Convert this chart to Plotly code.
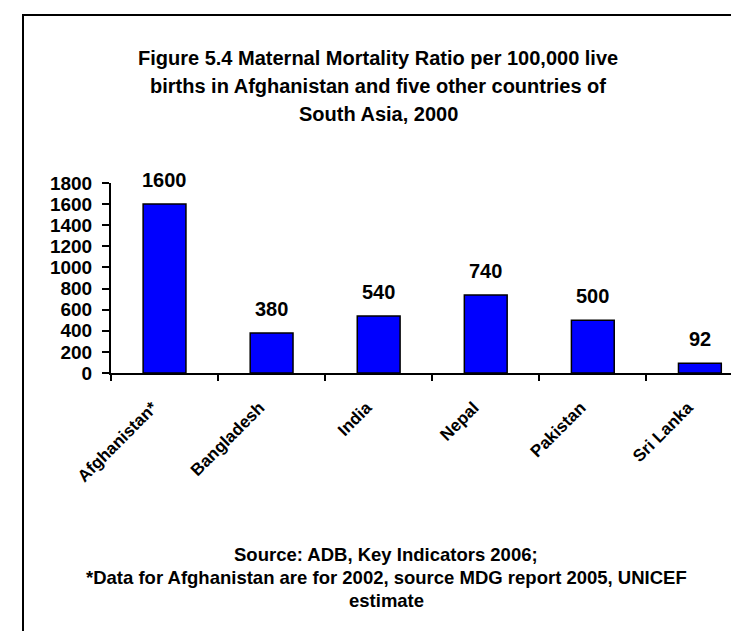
import plotly.graph_objects as go

countries = ["Afghanistan*", "Bangladesh", "India", "Nepal", "Pakistan", "Sri Lanka"]
mmr = [1600, 380, 540, 740, 500, 92]
y_ticks = [0, 200, 400, 600, 800, 1000, 1200, 1400, 1600, 1800]

title_lines = [
    "Figure 5.4 Maternal Mortality Ratio per 100,000 live",
    "births in Afghanistan and five other countries of",
    "South Asia, 2000",
]
footer_lines = [
    "Source: ADB, Key Indicators 2006;",
    "*Data for Afghanistan are for 2002, source MDG report 2005, UNICEF",
    "estimate",
]

W, H = 739, 631
L, R = 103, 739   # plot area x pixels
T, B = 175, 365   # plot area y pixels


def px_x(px):
    return (px - L) / (R - L)


def px_y(py):
    return (B - py) / (B - T)


fig = go.Figure()
fig.add_trace(go.Bar(
    x=countries, y=mmr, width=0.4,
    marker=dict(color="#0000FF", line=dict(color="black", width=1.5)),
    showlegend=False, hoverinfo="x+y",
))

annotations = []
for c, v in zip(countries, mmr):
    annotations.append(dict(
        x=c, y=v, xref="x", yref="y", text=str(v), showarrow=False,
        yanchor="bottom", yshift=11,
        font=dict(family="Liberation Sans, Arial", size=20, color="black", weight="bold"),
    ))

title_y = [50, 78, 106]
for line, yy in zip(title_lines, title_y):
    annotations.append(dict(
        x=px_x(370), y=px_y(yy), xref="paper", yref="paper",
        text=line, showarrow=False,
        xanchor="center", yanchor="middle",
        font=dict(family="Liberation Sans, Arial", size=20, color="black", weight="bold"),
    ))

footer_y = [546, 569, 592]
for line, yy in zip(footer_lines, footer_y):
    annotations.append(dict(
        x=px_x(378), y=px_y(yy), xref="paper", yref="paper",
        text=line, showarrow=False,
        xanchor="center", yanchor="middle",
        font=dict(family="Liberation Sans, Arial", size=18.5, color="black", weight="bold"),
    ))

fig.update_layout(
    width=W, height=H,
    margin=dict(l=L, r=W - R, t=T, b=H - B, pad=0),
    paper_bgcolor="white", plot_bgcolor="white",
    annotations=annotations,
    shapes=[dict(
        type="path", xref="paper", yref="paper",
        path=f"M {px_x(W + 20)} {px_y(7)} L {px_x(15)} {px_y(7)} L {px_x(15)} {px_y(H + 20)}",
        line=dict(color="black", width=2),
    )],
    xaxis=dict(
        type="category", range=[-0.5, 5.44],
        showline=True, linecolor="black", linewidth=2,
        ticks="outside", tickson="boundaries", ticklen=6, tickwidth=1.5, tickcolor="black",
        tickangle=-45, ticklabelstandoff=16, ticklabelshift=-12,
        tickfont=dict(family="Liberation Sans, Arial", size=17, color="black", weight="bold"),
        showgrid=False, zeroline=False, fixedrange=True,
    ),
    yaxis=dict(
        range=[0, 1800], tickvals=y_ticks,
        showline=True, linecolor="black", linewidth=2,
        ticks="outside", ticklen=7, tickwidth=1.5, tickcolor="black", ticklabelstandoff=6,
        tickfont=dict(family="Liberation Sans, Arial", size=19, color="black", weight="bold"),
        showgrid=False, zeroline=False, fixedrange=True,
    ),
)

fig.write_html("out.html")
